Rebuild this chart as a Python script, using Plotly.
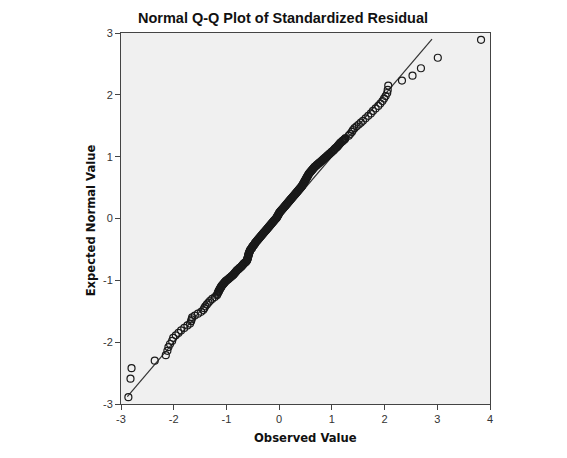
import plotly.graph_objects as go

expected_low = [
    -2.89, -2.59, -2.42, -2.30, -2.21, -2.14, -2.08, -2.03, -1.98, -1.93,
    -1.89, -1.85, -1.81, -1.77, -1.73, -1.70, -1.66, -1.63, -1.60, -1.57,
    -1.54, -1.51, -1.48, -1.45, -1.42, -1.39, -1.36, -1.33, -1.30, -1.27,
    -1.24, -1.22,
]
observed_low = [
    -2.86, -2.82, -2.80, -2.36, -2.15, -2.12, -2.10, -2.07, -2.03, -2.01,
    -1.96, -1.91, -1.86, -1.80, -1.74, -1.69, -1.67, -1.66, -1.65, -1.60,
    -1.54, -1.48, -1.44, -1.42, -1.40, -1.37, -1.34, -1.31, -1.27, -1.22,
    -1.18, -1.17,
]

expected_mid = [
    -1.20, -1.19, -1.18, -1.17, -1.16, -1.15, -1.14, -1.13, -1.12, -1.11,
    -1.10, -1.09, -1.08, -1.07, -1.06, -1.05, -1.04, -1.03, -1.02, -1.01,
    -1.00, -0.99, -0.98, -0.97, -0.96, -0.95, -0.94, -0.93, -0.92, -0.91,
    -0.90, -0.89, -0.88, -0.87, -0.86, -0.85, -0.84, -0.83, -0.82, -0.81,
    -0.80, -0.79, -0.78, -0.77, -0.76, -0.75, -0.74, -0.73, -0.72, -0.71,
    -0.70, -0.69, -0.68, -0.67, -0.66, -0.65, -0.64, -0.63, -0.62, -0.61,
    -0.60, -0.59, -0.58, -0.57, -0.56, -0.55, -0.54, -0.53, -0.52, -0.51,
    -0.50, -0.49, -0.48, -0.47, -0.46, -0.45, -0.44, -0.43, -0.42, -0.41,
    -0.40, -0.39, -0.38, -0.37, -0.36, -0.35, -0.34, -0.33, -0.32, -0.31,
    -0.30, -0.29, -0.28, -0.27, -0.26, -0.25, -0.24, -0.23, -0.22, -0.21,
    -0.20, -0.19, -0.18, -0.17, -0.16, -0.15, -0.14, -0.13, -0.12, -0.11,
    -0.10, -0.09, -0.08, -0.07, -0.06, -0.05, -0.04, -0.03, -0.02, -0.01,
    0.00, 0.01, 0.02, 0.03, 0.04, 0.05, 0.06, 0.07, 0.08, 0.09,
    0.10, 0.11, 0.12, 0.13, 0.14, 0.15, 0.16, 0.17, 0.18, 0.19,
    0.20, 0.21, 0.22, 0.23, 0.24, 0.25, 0.26, 0.27, 0.28, 0.29,
    0.30, 0.31, 0.32, 0.33, 0.34, 0.35, 0.36, 0.37, 0.38, 0.39,
    0.40, 0.41, 0.42, 0.43, 0.44, 0.45, 0.46, 0.47, 0.48, 0.49,
    0.50, 0.51, 0.52, 0.53, 0.54, 0.55, 0.56, 0.57, 0.58, 0.59,
    0.60, 0.61, 0.62, 0.63, 0.64, 0.65, 0.66, 0.67, 0.68, 0.69,
    0.70, 0.71, 0.72, 0.73, 0.74, 0.75, 0.76, 0.77, 0.78, 0.79,
    0.80, 0.81, 0.82, 0.83, 0.84, 0.85, 0.86, 0.87, 0.88, 0.89,
    0.90, 0.91, 0.92, 0.93, 0.94, 0.95, 0.96, 0.97, 0.98, 0.99,
    1.00, 1.01, 1.02, 1.03, 1.04, 1.05, 1.06, 1.07, 1.08, 1.09,
    1.10, 1.11, 1.12, 1.13, 1.14, 1.15, 1.16, 1.17, 1.18, 1.19,
    1.20, 1.21, 1.22, 1.23, 1.24, 1.25, 1.26, 1.27, 1.28, 1.29,
    1.30,
]
observed_mid = [
    -1.16, -1.15, -1.15, -1.14, -1.14, -1.13, -1.12, -1.12, -1.11, -1.10,
    -1.10, -1.09, -1.08, -1.07, -1.06, -1.05, -1.04, -1.03, -1.02, -1.01,
    -0.99, -0.98, -0.96, -0.95, -0.94, -0.92, -0.91, -0.90, -0.88, -0.87,
    -0.86, -0.85, -0.84, -0.83, -0.82, -0.81, -0.80, -0.79, -0.77, -0.76,
    -0.75, -0.73, -0.72, -0.71, -0.70, -0.69, -0.68, -0.67, -0.66, -0.64,
    -0.63, -0.62, -0.61, -0.61, -0.60, -0.60, -0.60, -0.59, -0.59, -0.59,
    -0.58, -0.58, -0.58, -0.58, -0.57, -0.57, -0.56, -0.56, -0.55, -0.55,
    -0.54, -0.53, -0.52, -0.51, -0.51, -0.50, -0.49, -0.48, -0.47, -0.46,
    -0.46, -0.45, -0.44, -0.43, -0.42, -0.41, -0.40, -0.39, -0.38, -0.37,
    -0.36, -0.35, -0.34, -0.33, -0.32, -0.31, -0.30, -0.29, -0.28, -0.27,
    -0.26, -0.25, -0.24, -0.23, -0.22, -0.21, -0.20, -0.19, -0.18, -0.17,
    -0.16, -0.15, -0.14, -0.13, -0.12, -0.11, -0.10, -0.09, -0.08, -0.07,
    -0.06, -0.05, -0.04, -0.04, -0.03, -0.02, -0.02, -0.01, 0.00, 0.00,
    0.01, 0.02, 0.03, 0.04, 0.05, 0.06, 0.07, 0.08, 0.09, 0.10,
    0.11, 0.12, 0.13, 0.14, 0.15, 0.16, 0.17, 0.18, 0.19, 0.20,
    0.21, 0.22, 0.23, 0.24, 0.25, 0.26, 0.27, 0.28, 0.29, 0.30,
    0.31, 0.32, 0.33, 0.34, 0.35, 0.36, 0.37, 0.38, 0.39, 0.40,
    0.41, 0.42, 0.43, 0.44, 0.44, 0.45, 0.46, 0.46, 0.47, 0.48,
    0.48, 0.49, 0.50, 0.50, 0.51, 0.52, 0.52, 0.53, 0.54, 0.54,
    0.55, 0.56, 0.56, 0.57, 0.58, 0.59, 0.60, 0.61, 0.62, 0.63,
    0.64, 0.65, 0.66, 0.67, 0.68, 0.70, 0.71, 0.72, 0.74, 0.75,
    0.76, 0.78, 0.79, 0.80, 0.82, 0.83, 0.84, 0.86, 0.87, 0.88,
    0.90, 0.91, 0.92, 0.94, 0.95, 0.96, 0.98, 0.99, 1.00, 1.02,
    1.03, 1.04, 1.05, 1.06, 1.07, 1.09, 1.10, 1.11, 1.12, 1.13,
    1.14, 1.15, 1.16, 1.17, 1.19, 1.20, 1.21, 1.23, 1.24, 1.25,
    1.26,
]

expected_high = [
    1.34, 1.37, 1.40, 1.43, 1.46, 1.49, 1.52, 1.55, 1.58, 1.62,
    1.66, 1.70, 1.74, 1.78, 1.82, 1.86, 1.90, 1.94, 1.98, 2.03,
    2.08, 2.15, 2.23, 2.31, 2.43, 2.60, 2.89,
]
observed_high = [
    1.32, 1.35, 1.38, 1.40, 1.43, 1.47, 1.51, 1.55, 1.59, 1.64,
    1.69, 1.74, 1.78, 1.83, 1.88, 1.92, 1.96, 1.99, 2.02, 2.05,
    2.06, 2.07, 2.33, 2.53, 2.69, 3.01, 3.83,
]

observed = observed_low + observed_mid + observed_high
expected = expected_low + expected_mid + expected_high

# Reference line (expected = observed)
ref_line_x = [-2.88, 2.90]
ref_line_y = [-2.88, 2.90]

tick_vals_x = [-3, -2, -1, 0, 1, 2, 3, 4]
tick_text_x = ["-3", "-2", "-1", "0", "1", "2", "3", "4"]
tick_vals_y = [-3, -2, -1, 0, 1, 2, 3]
tick_text_y = ["-3", "-2", "-1", "0", "1", "2", "3"]

FONT = "Liberation Sans, Arial, sans-serif"
LABEL_FONT = "DejaVu Sans, Verdana, sans-serif"

fig = go.Figure()
fig.add_trace(go.Scatter(
    x=ref_line_x, y=ref_line_y, mode="lines",
    line=dict(color="#333333", width=1.2), hoverinfo="skip", showlegend=False,
))
fig.add_trace(go.Scatter(
    x=observed, y=expected, mode="markers",
    marker=dict(symbol="circle-open", size=7, color="#1a1a1a", line=dict(width=1.2)),
    showlegend=False,
))

axis_common = dict(
    showgrid=False, zeroline=False, showline=True, linecolor="#444444",
    linewidth=1, mirror=True, ticks="outside", ticklen=5, tickcolor="#444444",
    tickfont=dict(family=FONT, size=11, color="#333333"),
)

fig.update_layout(
    width=559, height=450,
    margin=dict(l=113, r=77, t=25, b=54),
    paper_bgcolor="white", plot_bgcolor="#f0f0f0",
    title=dict(text="<b>Normal Q-Q Plot of Standardized Residual</b>",
               font=dict(family=FONT, size=14.5, color="#111111"),
               x=275 / 559, xanchor="center", y=1 - 10 / 450, yanchor="middle"),
    xaxis=dict(range=[-3, 4], tickvals=tick_vals_x, ticktext=tick_text_x, **axis_common),
    yaxis=dict(range=[-3, 3], tickvals=tick_vals_y, ticktext=tick_text_y, **axis_common),
    annotations=[
        dict(text="<b>Observed Value</b>", xref="paper", yref="paper",
             x=0.501, y=-0.0903, xanchor="center", yanchor="middle",
             showarrow=False, font=dict(family=LABEL_FONT, size=11.6, color="#111111")),
        dict(text="<b>Expected Normal Value</b>", xref="paper", yref="paper",
             x=-0.0813, y=0.495, xanchor="center", yanchor="middle", textangle=-90,
             showarrow=False, font=dict(family=LABEL_FONT, size=11.6, color="#111111")),
    ],
)

fig.write_html("out.html")
